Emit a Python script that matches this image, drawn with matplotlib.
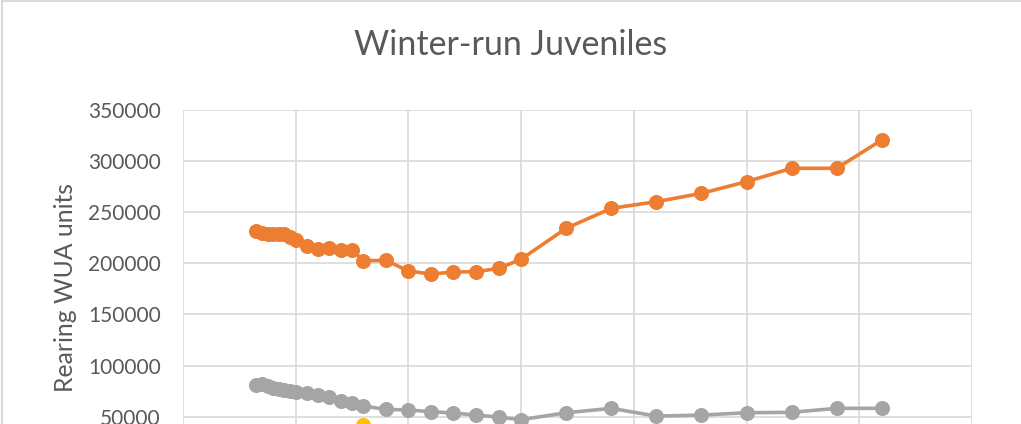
import matplotlib.pyplot as plt
from matplotlib.patches import Rectangle

# flow (cfs) vs rearing WUA
flows = [3250, 3500, 3750, 4000, 4250, 4500, 4750, 5000, 5500, 6000, 6500, 7000,
         7500, 8000, 9000, 10000, 11000, 12000, 13000, 14000, 15000, 17000, 19000,
         21000, 23000, 25000, 27000, 29000, 31000]

orange_wua = [231600, 229500, 228500, 228500, 228500, 228500, 226000, 222500, 217000,
              214000, 214700, 213500, 213000, 202600, 202900, 192500, 189500, 191500,
              191800, 195000, 204000, 234300, 253800, 260300, 268500, 279900, 293000,
              293000, 320700]

gray_wua = [80700, 81500, 79500, 78300, 77300, 76300, 75300, 74300, 73000, 71500,
            68900, 65500, 63000, 60400, 57100, 56500, 54800, 53500, 51500, 49500,
            47000, 53800, 58100, 50500, 51500, 53800, 54200, 58100, 58100]

# only the 8000 cfs point of this one shows above the crop
yellow_wua = [22000, 23000, 24000, 25000, 26000, 27000, 28000, 29000, 30000, 31000,
              32000, 33000, 34000, 41500, 33000, 31000, 30000, 29000, 28000, 27000,
              26000, 25000, 24000, 23000, 22000, 21000, 20000, 19000, 18000]

title = "Winter-run Juveniles"
ylabel = "Rearing WUA units"
font = "Lato"
txt = "#595959"

fig = plt.figure(figsize=(10.21, 4.24), dpi=100)
ax = fig.add_axes([0.1792, -0.1031, 0.7728, 0.8436])

ax.plot(flows, yellow_wua, color="#FFC000", lw=2.6, marker="o", ms=9.8, zorder=3)
ax.plot(flows, gray_wua, color="#A5A5A5", lw=2.6, marker="o", ms=9.8, zorder=4)
ax.plot(flows, orange_wua, color="#ED7D31", lw=2.6, marker="o", ms=9.8, zorder=5)

ax.set_xlim(0, 35000)
ax.set_ylim(0, 350000)
ax.set_xticks(range(0, 35001, 5000))
ax.set_yticks(range(0, 350001, 50000))
ax.set_yticklabels([str(v) for v in range(0, 350001, 50000)],
                   fontname=font, fontsize=15, color=txt)
ax.tick_params(length=0, pad=16, labelbottom=False)
ax.grid(True, color="#D9D9D9", lw=1.2)
ax.set_axisbelow(True)
for s in ax.spines.values():
    s.set_visible(False)

fig.text(0.064, 0.321, ylabel, rotation=90, ha="center", va="center",
         fontname=font, fontsize=17.8, color=txt)
fig.text(0.5, 0.894, title, ha="center", va="center",
         fontname=font, fontsize=24.5, color=txt)

# chart area border (top and left edges visible)
fig.patches.append(Rectangle((0.0015, -0.5), 1.5, 1.498, transform=fig.transFigure,
                             fill=False, ec="#D9D9D9", lw=1.5))

fig.savefig("out.png", dpi=100)
